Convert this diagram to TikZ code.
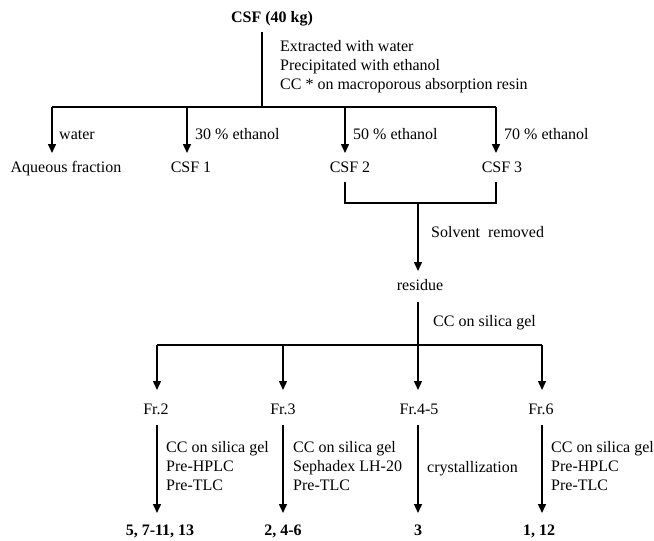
\documentclass[tikz,border=0pt]{standalone}
\usepackage{fontspec}
\setmainfont{Liberation Serif}
\usetikzlibrary{arrows.meta}
\begin{document}
\begin{tikzpicture}[x=1pt,y=-1pt,
  txt/.style={inner sep=0pt, font=\fontsize{16}{19}\selectfont, text height=11.5pt, text depth=3.5pt},
  lbl/.style={txt, anchor=west},
  boldtxt/.style={txt, font=\fontsize{16}{19}\selectfont\bfseries},
  flow/.style={line width=1.5pt},
  arr/.style={flow, -{Triangle[length=9pt,width=8pt]}},
]
\useasboundingbox (0,0) rectangle (654,541);
% top
\node[boldtxt] (csf) at (272,18) {CSF (40 kg)};
\coordinate (t0) at (262,32);
\coordinate (j0) at (262,107);
\draw[flow] (t0) -- (j0);
\node[lbl] (l1) at (280,47) {Extracted with water};
\node[lbl] (l2) at (280,66) {Precipitated with ethanol};
\node[lbl] (l3) at (280,85) {CC * on macroporous absorption resin};
% first split
\coordinate (b1) at (52,107);
\coordinate (b2) at (187,107);
\coordinate (b3) at (345,107);
\coordinate (b4) at (496,107);
\draw[flow] (b1) -- (b4);
\coordinate (e1) at (52,153);
\coordinate (e2) at (187,153);
\coordinate (e3) at (345,153);
\coordinate (e4) at (496,153);
\draw[arr] (b1) -- (e1);
\draw[arr] (b2) -- (e2);
\draw[arr] (b3) -- (e3);
\draw[arr] (b4) -- (e4);
\node[lbl] (w1) at (59,135) {water};
\node[lbl] (w2) at (195,135) {30 \% ethanol};
\node[lbl] (w3) at (353,135) {50 \% ethanol};
\node[lbl] (w4) at (504,135) {70 \% ethanol};
\node[txt] (aq) at (66,168) {Aqueous fraction};
\node[txt] (csf1) at (191,168) {CSF 1};
\node[txt] (csf2) at (350,168) {CSF 2};
\node[txt] (csf3) at (502,168) {CSF 3};
% bracket
\coordinate (k1) at (345,182);
\coordinate (k2) at (496,182);
\coordinate (k3) at (345,203);
\coordinate (k4) at (496,203);
\coordinate (m0) at (418,203);
\draw[flow, line join=miter] (k1) -- (k3) -- (k4) -- (k2);
\coordinate (m1) at (418,271);
\draw[arr] (m0) -- (m1);
\node[lbl] (sr) at (431,233) {Solvent~ removed};
\node[txt] (res) at (420,286) {residue};
\coordinate (r0) at (418,302);
\coordinate (r1) at (418,345);
\draw[flow] (r0) -- (r1);
\node[lbl] (cc0) at (433,322) {CC on silica gel};
% second split
\coordinate (c1) at (157,345);
\coordinate (c2) at (283,345);
\coordinate (c3) at (418,345);
\coordinate (c4) at (542,345);
\draw[flow] (c1) -- (c4);
\coordinate (d1) at (157,390);
\coordinate (d2) at (283,390);
\coordinate (d3) at (418,390);
\coordinate (d4) at (542,390);
\draw[arr] (c1) -- (d1);
\draw[arr] (c2) -- (d2);
\draw[arr] (c3) -- (d3);
\draw[arr] (c4) -- (d4);
\node[txt] (fr2) at (156,410) {Fr.2};
\node[txt] (fr3) at (283,410) {Fr.3};
\node[txt] (fr45) at (419,410) {Fr.4-5};
\node[txt] (fr6) at (541,410) {Fr.6};
% third arrows
\coordinate (f1) at (157,425);
\coordinate (f2) at (283,425);
\coordinate (f3) at (418,425);
\coordinate (f4) at (542,425);
\coordinate (g1) at (157,513);
\coordinate (g2) at (283,513);
\coordinate (g3) at (418,513);
\coordinate (g4) at (542,513);
\draw[arr] (f1) -- (g1);
\draw[arr] (f2) -- (g2);
\draw[arr] (f3) -- (g3);
\draw[arr] (f4) -- (g4);
\node[lbl] (p11) at (166,448) {CC on silica gel};
\node[lbl] (p12) at (166,467) {Pre-HPLC};
\node[lbl] (p13) at (166,486) {Pre-TLC};
\node[lbl] (p21) at (293,448) {CC on silica gel};
\node[lbl] (p22) at (293,467) {Sephadex LH-20};
\node[lbl] (p23) at (293,486) {Pre-TLC};
\node[lbl] (p31) at (427,468) {crystallization};
\node[lbl] (p41) at (551,448) {CC on silica gel};
\node[lbl] (p42) at (551,467) {Pre-HPLC};
\node[lbl] (p43) at (551,486) {Pre-TLC};
% results
\node[boldtxt] (res1) at (160,531) {5, 7-11, 13};
\node[boldtxt] (res2) at (283,531) {2, 4-6};
\node[boldtxt] (res3) at (418,531) {3};
\node[boldtxt] (res4) at (539,531) {1, 12};
\end{tikzpicture}
\end{document}
